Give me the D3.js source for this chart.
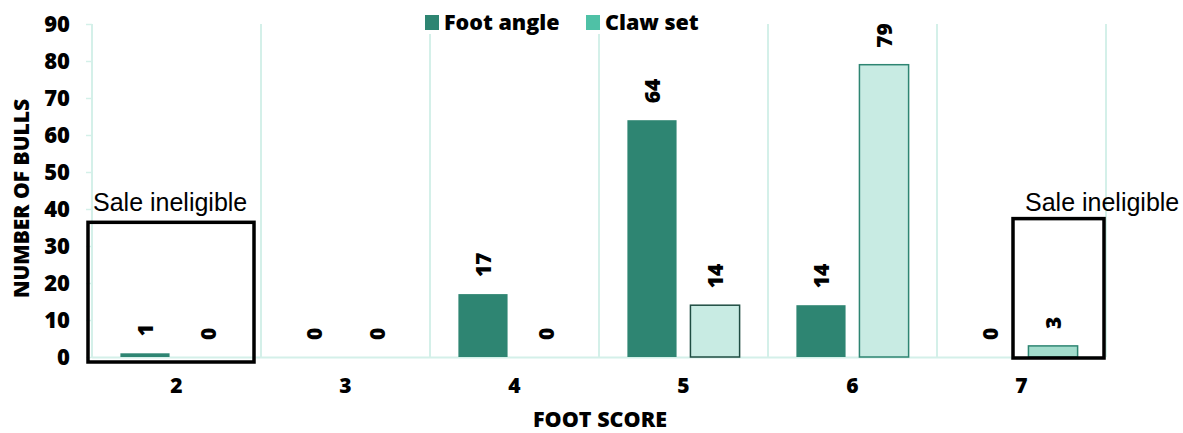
<!DOCTYPE html>
<html><head><meta charset="utf-8">
<script src="https://cdn.jsdelivr.net/npm/d3@7"></script>
<style>
html,body{margin:0;padding:0;background:#fff;}
svg{display:block;}
</style></head>
<body><svg id="c" width="1183" height="433"></svg>
<script>
const categories = ["2","3","4","5","6","7"];
const seriesNames = ["Foot angle","Claw set"];
const footAngle = [1,0,17,64,14,0];
const clawSet = [0,0,0,14,79,3];
const yTicks = [0,10,20,30,40,50,60,70,80,90];
const boxLabel = "Sale ineligible";

(function(){
const svg = d3.select("#c");
const FONT = "'Open Sans', 'Noto Sans', sans-serif";
const W = 800;
const pLeft = 92, pRight = 1106, pTop = 24, pBottom = 357;

const x = d3.scaleBand().domain(categories).range([pLeft, pRight]).padding(0);
const x1 = d3.scaleBand().domain(seriesNames)
  .range([x.bandwidth()*0.168, x.bandwidth()*0.832]).paddingInner(0.22).paddingOuter(0);
const y = d3.scaleLinear().domain([0,90]).range([pBottom, pTop]);

const grid = "#d4f0e9";
const bounds = categories.map(c => x(c)).concat([pRight]);
svg.append("g").selectAll("line").data(bounds).join("line")
  .attr("x1", d=>d).attr("x2", d=>d).attr("y1", y(90)).attr("y2", y(0))
  .attr("stroke", grid).attr("stroke-width", 2);
svg.append("line").attr("x1", pLeft).attr("x2", pRight).attr("y1", y(0)+0.5).attr("y2", y(0)+0.5)
  .attr("stroke", grid).attr("stroke-width", 2);

const ya = svg.append("g").attr("transform", `translate(${pLeft},0)`)
  .call(d3.axisLeft(y).tickValues(yTicks).tickSize(6).tickPadding(16));
ya.select(".domain").remove();
ya.selectAll(".tick line").attr("stroke", grid).attr("stroke-width", 1.5);
ya.selectAll(".tick text").attr("font-family", FONT).attr("font-weight", W)
  .attr("font-size", 22).attr("fill", "#000");

const xa = svg.append("g").attr("transform", `translate(0,${pBottom})`)
  .call(d3.axisBottom(x).tickSize(0).tickPadding(21));
xa.select(".domain").remove();
xa.selectAll(".tick text").attr("font-family", FONT).attr("font-weight", W)
  .attr("font-size", 21).attr("fill", "#000");

const data = [];
categories.forEach((c,i) => {
  data.push({cat:c, s:"Foot angle", v:footAngle[i]});
  data.push({cat:c, s:"Claw set", v:clawSet[i]});
});
const fillFor = d => d.s === "Foot angle" ? "#2e8572" : (d.cat === "7" ? "#a3dccc" : "#c8ebe3");
const strokeFor = d => d.s === "Foot angle" ? "none" : (d.v === 14 ? "#1f4c42" : "#2e8572");
svg.append("g").selectAll("rect").data(data.filter(d => d.v > 0)).join("rect")
  .attr("x", d => x(d.cat) + x1(d.s))
  .attr("y", d => y(d.v))
  .attr("width", x1.bandwidth())
  .attr("height", d => y(0) - y(d.v))
  .attr("fill", fillFor)
  .attr("stroke", strokeFor)
  .attr("stroke-width", 1.5);

svg.append("g").selectAll("text").data(data).join("text")
  .attr("transform", d => `translate(${x(d.cat) + x1(d.s) + x1.bandwidth()/2 + 8},${y(d.v) - 17}) rotate(-90)`)
  .attr("text-anchor", "start")
  .attr("font-family", FONT).attr("font-weight", W).attr("font-size", 21)
  .attr("fill", "#000")
  .text(d => d.v);

const boxes = [
  {x0: x("2") - 4, x1: x("2") + x.bandwidth() - 7, y0: y(36.4), y1: y(0) + 5, tx: x("2") + 1},
  {x0: x("7") + 76, x1: x("7") + 167, y0: y(37.4), y1: y(0) + 1, tx: x("7") + 88}
];
svg.append("g").selectAll("rect").data(boxes).join("rect")
  .attr("x", d=>d.x0).attr("y", d=>d.y0).attr("width", d=>d.x1-d.x0).attr("height", d=>d.y1-d.y0)
  .attr("fill", "none").attr("stroke", "#000").attr("stroke-width", 3.5);
svg.append("g").selectAll("text").data(boxes).join("text")
  .attr("x", d=>d.tx).attr("y", 211)
  .attr("font-family", "'Liberation Sans', Arial, sans-serif").attr("font-size", 25)
  .attr("fill", "#000").text(boxLabel);

const legColors = ["#2e8572", "#4fc1a6"];
const leg = svg.append("g");
leg.append("rect").attr("x", 410).attr("y", 8).attr("width", 300).attr("height", 26).attr("fill", "#fff");
const legX = [425, 586];
seriesNames.forEach((s,i) => {
  leg.append("rect").attr("x", legX[i]).attr("y", 15).attr("width", 14).attr("height", 15).attr("fill", legColors[i]);
  leg.append("text").attr("x", legX[i] + 19).attr("y", 30)
    .attr("font-family", FONT).attr("font-weight", W).attr("font-size", 21.5).attr("fill", "#000").text(s);
});

svg.append("text").attr("transform", `translate(29,${(pTop+pBottom)/2 + 8}) rotate(-90)`)
  .attr("text-anchor", "middle").attr("font-family", FONT).attr("font-weight", W)
  .attr("font-size", 21).attr("fill", "#000").text("NUMBER OF BULLS");
svg.append("text").attr("x", 600).attr("y", 427)
  .attr("text-anchor", "middle").attr("font-family", FONT).attr("font-weight", W)
  .attr("font-size", 21.5).attr("fill", "#000").text("FOOT SCORE");
})();
</script></body></html>
